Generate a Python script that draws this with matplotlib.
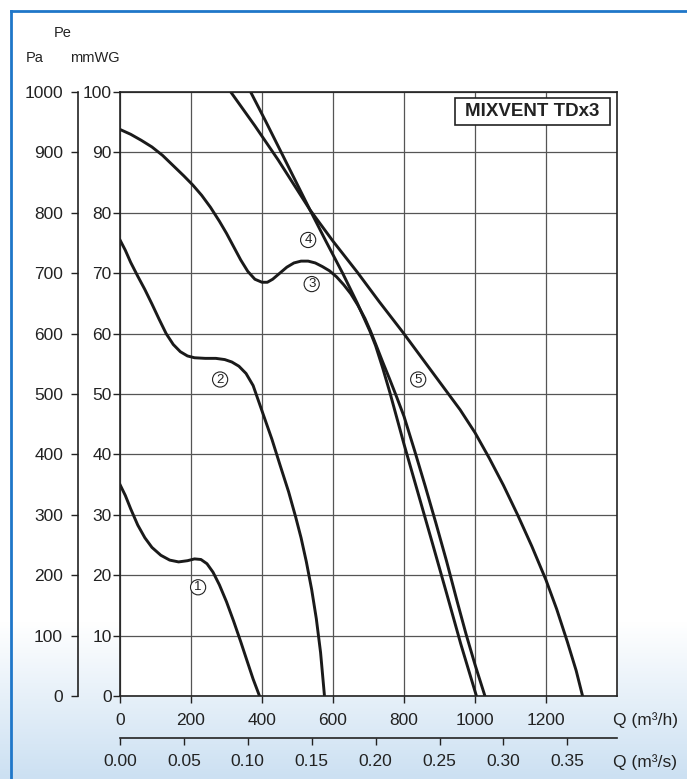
import numpy as np
import matplotlib.pyplot as plt
from matplotlib.lines import Line2D
from matplotlib.patches import Rectangle

plt.rcParams['font.family'] = ['Liberation Sans', 'DejaVu Sans']

# =========================
# Data (Q in m3/h, Pe in mmWG)
# =========================
q1 = [0, 15, 30, 50, 70, 90, 115, 140, 165, 190, 210, 228, 245, 262, 280, 300,
      320, 340, 358, 375, 393]
p1 = [35, 33.2, 31, 28.3, 26.2, 24.6, 23.3, 22.5, 22.2, 22.4, 22.7, 22.6, 21.9,
      20.5, 18.4, 15.6, 12.4, 9, 5.8, 2.8, 0]

q2 = [0, 15, 30, 50, 70, 90, 110, 130, 150, 170, 190, 210, 240, 270, 295, 315,
      335, 355, 375, 400, 428, 451, 475, 495, 510, 525, 540, 553, 565, 576]
p2 = [75.5, 73.8, 71.8, 69.5, 67.3, 64.9, 62.4, 60, 58.2, 57, 56.3, 56, 55.9,
      55.9, 55.7, 55.3, 54.6, 53.4, 51.4, 47.2, 42.5, 38.2, 33.8, 29.6, 26.2,
      22.2, 17.6, 12.8, 7.2, 0]

q3 = [0, 30, 60, 90, 120, 150, 180, 205, 230, 255, 280, 300, 320, 340, 360, 380,
      400, 415, 430, 450, 470, 490, 510, 530, 550, 570, 590, 610, 630, 650,
      670, 690, 705, 720, 740, 760, 780, 800, 830, 860, 890, 920, 950, 975, 1000, 1028]
p3 = [93.8, 93, 92, 90.9, 89.5, 87.8, 86.1, 84.6, 82.9, 80.9, 78.6, 76.6, 74.4,
      72.2, 70.3, 69, 68.5, 68.5, 69, 70, 71, 71.7, 72, 72, 71.7, 71.1, 70.4, 69.4,
      68.1, 66.6, 64.7, 62.5, 60.5, 58.3, 55.3, 52.4, 49.4, 46.3, 40.6, 34.7,
      28.6, 22.3, 15.6, 10.2, 5.2, 0]

q4 = [368, 410, 450, 490, 535, 580, 628, 668, 704, 720, 740, 760, 780, 800, 840,
      880, 920, 960, 1004]
p4 = [100, 95.2, 90.5, 85.8, 80.5, 75.3, 69.9, 65.1, 60.4, 58, 54.3, 50.3, 46,
      41.7, 33.5, 25.3, 17, 8.6, 0]

q5 = [312, 380, 445, 535, 600, 668, 730, 797, 880, 958, 1000, 1040, 1080, 1120,
      1160, 1200, 1230, 1260, 1285, 1303]
p5 = [100, 94.4, 88.8, 80.5, 75.3, 70.2, 65.3, 60.2, 53.6, 47.4, 43.6, 39.4,
      34.9, 30, 24.8, 19.2, 14.4, 9, 4.2, 0]

curves = [(q1, p1), (q2, p2), (q3, p3), (q4, p4), (q5, p5)]
labels = ["1", "2", "3", "4", "5"]
label_q = [220, 282, 540, 530, 840]
label_p = [18, 52.4, 68.2, 75.5, 52.4]

q_ticks = [0, 200, 400, 600, 800, 1000, 1200]
qs_ticks = [0.0, 0.05, 0.10, 0.15, 0.20, 0.25, 0.30, 0.35]
mm_ticks = list(range(0, 101, 10))
pa_ticks = list(range(0, 1001, 100))

W, H = 687, 779
fig = plt.figure(figsize=(W / 100, H / 100), dpi=100)
fig.patch.set_facecolor("white")

# =========================
# Background gradient + border
# =========================
bg = fig.add_axes([0, 0, 1, 1], zorder=-10)
rows = np.linspace(0, 1, 300)[:, None]
t = np.clip((rows - 0.80) / 0.20, 0, 1)
top = np.array([1.0, 1.0, 1.0])
bot = np.array([0.80, 0.88, 0.95])
img = (1 - t)[..., None] * top + t[..., None] * bot
img = np.repeat(img, 2, axis=1)
bg.imshow(img, aspect="auto", extent=[0, 1, 0, 1], origin="upper")
bg.axis("off")

bc = "#1f77c9"
fig.add_artist(Line2D([11 / W, 1], [1 - 11 / H, 1 - 11 / H], transform=fig.transFigure, color=bc, lw=2))
fig.add_artist(Line2D([11 / W, 11 / W], [0, 1 - 11 / H], transform=fig.transFigure, color=bc, lw=2))

# =========================
# Main axes
# =========================
left, right, bottom, topy = 120 / W, 617 / W, 1 - 696 / H, 1 - 92 / H
ax = fig.add_axes([left, bottom, right - left, topy - bottom])
ax.set_facecolor("white")
ax.set_xlim(0, 1400)
ax.set_ylim(0, 100)
ax.set_xticks(q_ticks)
ax.set_yticks(mm_ticks)
ax.grid(True, color="#555555", lw=0.9)
ax.set_axisbelow(True)
for s in ax.spines.values():
    s.set_linewidth(1.2)
    s.set_color("#222222")
ax.tick_params(direction="out", length=5, width=1, labelsize=12.5, colors="#222222")
ax.tick_params(axis="y", pad=1)
ax.tick_params(axis="x", pad=7)

for (q, p) in curves:
    ax.plot(q, p, color="#1a1a1a", lw=2.1, solid_joinstyle="round")

for lab, lq, lp in zip(labels, label_q, label_p):
    ax.text(lq, lp, lab, fontsize=9.5, ha="center", va="center", color="#222222",
            bbox=dict(boxstyle="circle,pad=0.12", fc="white", ec="#222222", lw=0.8))

# title box
fig.add_artist(Rectangle((455 / W, 1 - 125 / H), 155 / W, 27 / H, transform=fig.transFigure,
                         fc="white", ec="#222222", lw=1.2, zorder=5))
fig.text(532.5 / W, 1 - 111.5 / H, "MIXVENT TDx3", fontsize=13.5, fontweight="bold",
         ha="center", va="center", color="#222222", zorder=6)

# secondary Q axis in m3/s
sec = ax.secondary_xaxis("bottom", functions=(lambda x: x / 3600.0, lambda x: x * 3600.0))
sec.spines["bottom"].set_position(("outward", 30))
sec.spines["bottom"].set_linewidth(1.2)
sec.spines["bottom"].set_color("#222222")
sec.set_xticks(qs_ticks)
sec.set_xticklabels(["%.2f" % v for v in qs_ticks])
sec.tick_params(direction="out", length=5, width=1, labelsize=12.5, colors="#222222", pad=7)

# Pa axis
axp = fig.add_axes([left, bottom, right - left, topy - bottom])
axp.patch.set_visible(False)
axp.set_ylim(0, 100 * 9.80665)
axp.set_xlim(0, 1400)
axp.xaxis.set_visible(False)
for k in ["top", "right", "bottom"]:
    axp.spines[k].set_visible(False)
axp.spines["left"].set_position(("outward", 30))
axp.spines["left"].set_bounds(0, 1000)
axp.spines["left"].set_linewidth(1.2)
axp.spines["left"].set_color("#222222")
axp.set_yticks(pa_ticks)
axp.tick_params(direction="out", length=5, width=1, labelsize=12.5, colors="#222222", pad=6)

# axis labels
fig.text(63 / W, 1 - 33 / H, "Pe", fontsize=10.5, ha="center", va="center", color="#222222")
fig.text(35 / W, 1 - 58 / H, "Pa", fontsize=10.5, ha="center", va="center", color="#222222")
fig.text(95 / W, 1 - 58 / H, "mmWG", fontsize=10.5, ha="center", va="center", color="#222222")
fig.text(613 / W, 1 - 720 / H, "Q (m³/h)", fontsize=12.5, ha="left", va="center", color="#222222")
fig.text(613 / W, 1 - 762 / H, "Q (m³/s)", fontsize=12.5, ha="left", va="center", color="#222222")

fig.savefig("out.png", dpi=100)
